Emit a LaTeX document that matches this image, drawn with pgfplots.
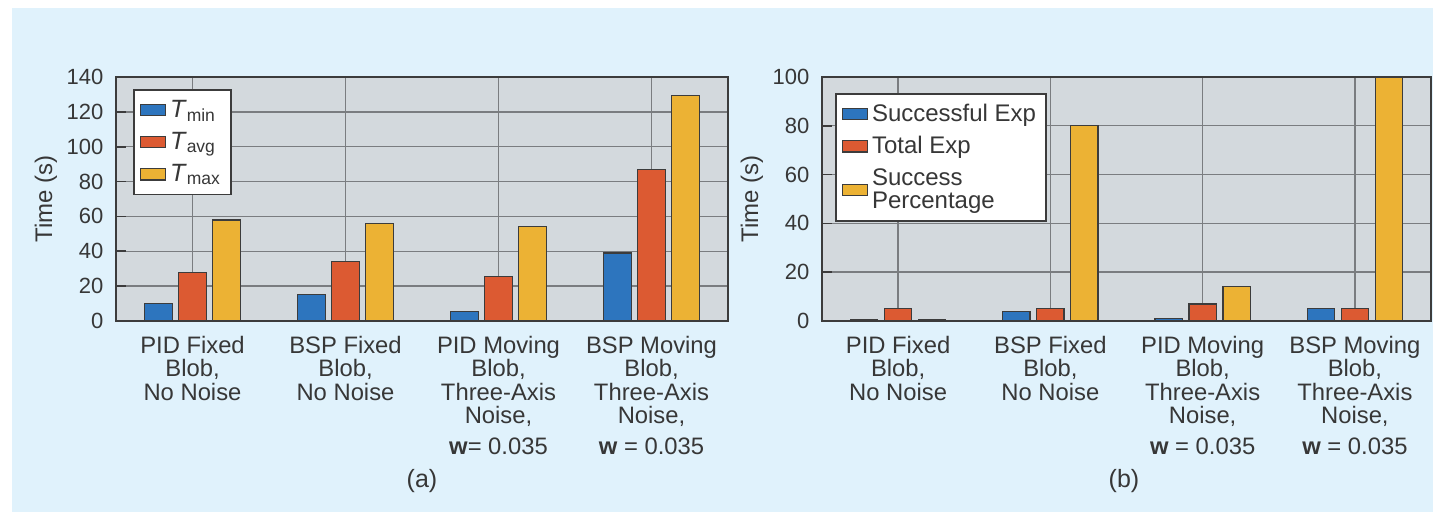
\documentclass[border=0pt]{standalone}
\usepackage{pgfplots}
\pgfplotsset{compat=1.18}
\usepackage{fontspec}
\setmainfont{Liberation Sans}
\definecolor{bgblue}{RGB}{224,242,252}
\definecolor{plotgray}{RGB}{211,217,221}
\definecolor{gridgray}{RGB}{122,125,128}
\definecolor{barblue}{RGB}{45,117,190}
\definecolor{barred}{RGB}{220,90,50}
\definecolor{baryel}{RGB}{236,178,52}
\definecolor{textgray}{RGB}{55,55,55}
\definecolor{edgegray}{RGB}{60,60,60}
\pgfplotsset{
  mystyle/.style={
    scale only axis,
    height=122pt,
    anchor=south west,
    ybar=3.3pt,
    bar width=13.7pt,
    xmin=-0.5, xmax=3.5,
    ymin=0,
    xtick={0,1,2,3},
    xticklabels={{PID Fixed\\Blob,\\No Noise},{BSP Fixed\\Blob,\\No Noise},{PID Moving\\Blob,\\Three-Axis\\Noise,\\[3.5pt]\textbf{w}#1 0.035},{BSP Moving\\Blob,\\Three-Axis\\Noise,\\[3.5pt]\textbf{w} = 0.035}},
    grid=major,
    major grid style={draw=gridgray, line width=0.7pt},
    axis background/.style={fill=plotgray},
    axis line style={draw=edgegray, line width=1pt},
    xtick style={draw=none},
    ytick style={draw=edgegray, line width=0.8pt},
    tick pos=left,
    tick align=inside,
    major tick length=5pt,
    /pgf/number format/assume math mode=true,
    every tick label/.append style={font=\fontsize{11}{11.75}\selectfont, text=textgray},
    xticklabel style={align=center, yshift=-4pt, font=\fontsize{11.9}{11.75}\selectfont},
    yticklabel style={xshift=-2.8pt},
    every axis y label/.style={at={([xshift=-35pt]axis description cs:0,0.5)}, rotate=90, anchor=center, font=\fontsize{12}{13}\selectfont, text=textgray},
    ylabel={Time (s)},
    legend cell align=left,
    legend style={at={(0,1)}, anchor=north west, draw=edgegray, line width=0.8pt, fill=white,
      font=\fontsize{12}{12}\selectfont, text=textgray, inner xsep=3pt, inner ysep=3pt,
      row sep=2pt},
    legend image code/.code={\draw[##1, line width=0.6pt] (0pt,-2.8pt) rectangle (12.5pt,2.8pt);},
    every axis plot/.append style={draw=edgegray, line width=0.6pt},
  }
}
\begin{document}
\begin{tikzpicture}
\fill[white] (0pt,0pt) rectangle (716.5pt,-256pt);
\fill[bgblue] (6pt,-4pt) rectangle (716.5pt,-256pt);
\begin{axis}[mystyle={=}, at={(58pt,-160.5pt)}, width=306pt,
  ymax=140, ytick={0,20,...,140},
  legend style={xshift=8.5pt, yshift=-6pt, font=\fontsize{12.5}{12}\selectfont}]
\addplot[fill=barblue] coordinates {(0,10) (1,15) (2,5.4) (3,39)};
\addplot[fill=barred] coordinates {(0,28) (1,34) (2,25.5) (3,87)};
\addplot[fill=baryel] coordinates {(0,58) (1,56) (2,54) (3,129.5)};
\legend{\textit{T}\textsubscript{min},\textit{T}\textsubscript{avg},\textit{T}\textsubscript{max}}
\end{axis}
\begin{axis}[mystyle={\ =}, at={(411pt,-160.5pt)}, width=304.5pt,
  ymax=100, ytick={0,20,...,100},
  legend style={xshift=6.5pt, yshift=-8pt}]
\addplot[fill=barblue] coordinates {(0,0.4) (1,4) (2,1) (3,5)};
\addplot[fill=barred] coordinates {(0,5) (1,5) (2,7) (3,5)};
\addplot[fill=baryel] coordinates {(0,0.4) (1,80) (2,14.3) (3,100)};
\legend{Successful Exp,Total Exp,{\shortstack[l]{Success\\Percentage}}}
\end{axis}
\node[text=textgray, font=\fontsize{12.5}{13}\selectfont] at (211pt,-240.5pt) {(a)};
\node[text=textgray, font=\fontsize{12.5}{13}\selectfont] at (562pt,-240.5pt) {(b)};
\end{tikzpicture}
\end{document}
